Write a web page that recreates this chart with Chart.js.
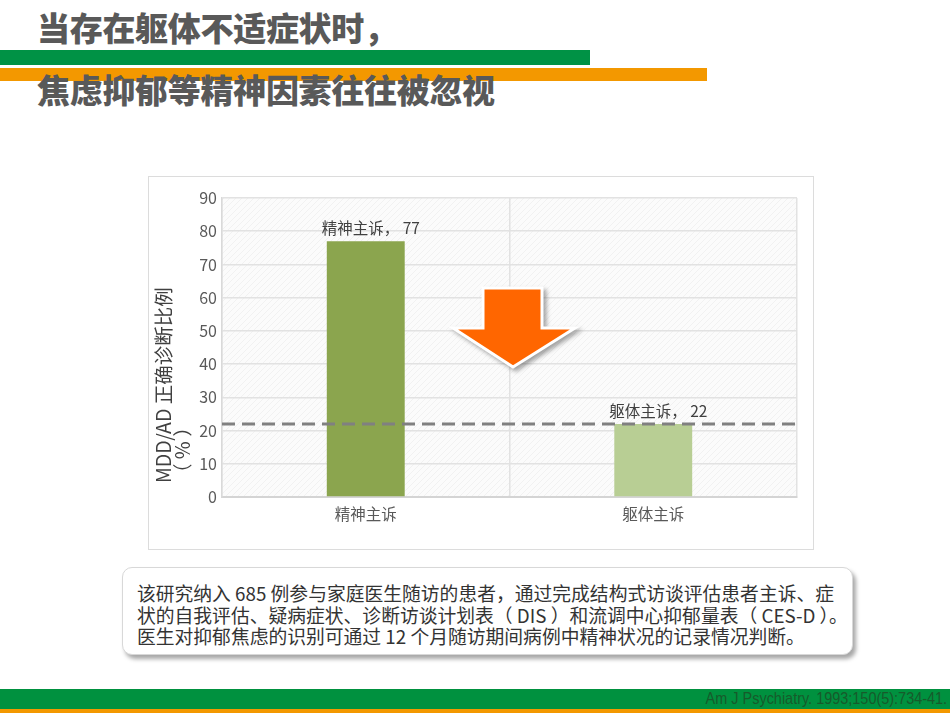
<!DOCTYPE html>
<html>
<head>
<meta charset="utf-8">
<script src="https://cdn.jsdelivr.net/npm/chart.js@4.4.0/dist/chart.umd.min.js"></script>
<style>
    body { margin: 0; width: 950px; height: 713px; background: #fff; position: relative; overflow: hidden;
           font-family: "Noto Sans CJK SC", "Noto Sans", sans-serif; }
    .abs { position: absolute; }
    .title { left: 37px; font-size: 33px; line-height: 33px; font-weight: 900; color: #595959; white-space: nowrap; letter-spacing: -0.3px; }
    #chartBox { left: 148px; top: 176px; width: 664px; height: 372px; border: 1px solid #dcdcdc; }
    #note { left: 122px; top: 567px; width: 731px; height: 88px; border: 1px solid #d8d8d8; border-radius: 10px;
            box-shadow: 3px 4px 4px rgba(0,0,0,0.35); background: #fff; box-sizing: border-box;
            padding: 14px 0 0 14px; font-size: 18.8px; line-height: 21.5px; color: #333; white-space: nowrap; }
    #cite { right: 3px; top: 689px; height: 20px; line-height: 20px; font-family: "Liberation Sans", sans-serif;
            font-size: 17px; color: #175a2b; transform: scaleX(0.85); transform-origin: right center; }
</style>
</head>
<body>
<div class="abs" style="left:0;top:50px;width:590px;height:15px;background:#009245"></div>
<div class="abs" style="left:0;top:68px;width:707px;height:13px;background:#f39800"></div>
<div class="abs title" style="top:11px">当存在躯体不适症状时，</div>
<div class="abs title" style="top:73px">焦虑抑郁等精神因素往往被忽视</div>

<div class="abs" id="chartBox"><canvas id="chart" width="664" height="372"></canvas></div>

<svg class="abs" style="left:440px;top:280px;filter:drop-shadow(3px 3px 2px rgba(0,0,0,0.35))" width="150" height="100">
    <polygon points="43,8 102,8 102,48 135,48 73,87 13,48 43,48" fill="#ff6600" stroke="#fff" stroke-width="3" stroke-linejoin="miter"/>
</svg>

<div class="abs" id="note">该研究纳入 685 例参与家庭医生随访的患者，通过完成结构式访谈评估患者主诉、症<br>状的自我评估、疑病症状、诊断访谈计划表（ DIS ）和流调中心抑郁量表（ CES-D ）。<br>医生对抑郁焦虑的识别可通过 12 个月随访期间病例中精神状况的记录情况判断。</div>

<div class="abs" style="left:0;top:689px;width:950px;height:20px;background:#00913f"></div>
<div class="abs" style="left:0;top:709px;width:950px;height:4px;background:#f39800"></div>
<div class="abs" id="cite">Am J Psychiatry. 1993;150(5):734-41.</div>

<script>
const categories = ["精神主诉", "躯体主诉"];
const rates = [77, 22];
const barColors = ["#8ba54e", "#b8ce94"];
const yTicks = [0, 10, 20, 30, 40, 50, 60, 70, 80, 90];
const refLine = 22;
const yTitle = ["MDD/AD 正确诊断比例", "（ % ）"];

const tickFont = { family: "'Noto Sans CJK SC', 'Noto Sans', sans-serif", size: 15.5 };

// hatched plot background
function makePattern() {
    const c = document.createElement("canvas");
    c.width = 6; c.height = 6;
    const g = c.getContext("2d");
    g.fillStyle = "#fbfbfb";
    g.fillRect(0, 0, 6, 6);
    g.strokeStyle = "#f1f1f1";
    g.lineWidth = 1;
    g.beginPath();
    g.moveTo(0, 6); g.lineTo(6, 0);
    g.stroke();
    return g.createPattern(c, "repeat");
}

const decorPlugin = {
    id: "decor",
    beforeDraw(chart) {
        const { ctx, chartArea: a } = chart;
        ctx.save();
        ctx.fillStyle = makePattern();
        ctx.fillRect(a.left, a.top, a.right - a.left, a.bottom - a.top);
        ctx.restore();
    },
    afterDatasetsDraw(chart) {
        const { ctx, chartArea: a, scales } = chart;
        // dashed reference line
        const y = scales.y.getPixelForValue(refLine);
        ctx.save();
        ctx.strokeStyle = "#808080";
        ctx.lineWidth = 3;
        ctx.setLineDash([13, 7]);
        ctx.beginPath();
        ctx.moveTo(a.left, y);
        ctx.lineTo(a.right, y);
        ctx.stroke();
        ctx.restore();

        // value labels
        const meta = chart.getDatasetMeta(0);
        ctx.save();
        ctx.font = "15.5px 'Noto Sans CJK SC', sans-serif";
        ctx.fillStyle = "#404040";
        ctx.textAlign = "center";
        ctx.textBaseline = "middle";
        meta.data.forEach((bar, i) => {
            ctx.fillText(categories[i] + "， " + rates[i], bar.x + 5, bar.y - 13);
        });
        ctx.restore();
    },
    afterDraw(chart) {
        // rotated y title, two lines, start aligned
        const { ctx, chartArea: a } = chart;
        ctx.save();
        ctx.font = "19.5px 'Noto Sans CJK SC', sans-serif";
        ctx.fillStyle = "#404040";
        ctx.textAlign = "left";
        ctx.textBaseline = "middle";
        yTitle.forEach((t, i) => {
            ctx.save();
            ctx.translate(15 + i * 19, a.bottom - 14);
            ctx.rotate(-Math.PI / 2);
            ctx.fillText(t, 0, 0);
            ctx.restore();
        });
        ctx.restore();
    }
};

new Chart(document.getElementById("chart"), {
    type: "bar",
    data: {
        labels: categories,
        datasets: [{
            data: rates,
            backgroundColor: barColors,
            categoryPercentage: 1,
            barPercentage: 0.271
        }]
    },
    options: {
        responsive: false,
        animation: false,
        layout: { padding: { top: 21, right: 16, left: 0, bottom: 0 } },
        plugins: { legend: { display: false }, tooltip: { enabled: false } },
        scales: {
            x: {
                afterFit: s => { s.height = 52; },
                grid: { color: "#e2e2e2", lineWidth: 1.5, drawTicks: false, offset: true },
                border: { color: "#d4d4d4", width: 2 },
                ticks: { color: "#595959", font: tickFont, padding: 8 }
            },
            y: {
                min: 0,
                max: 90,
                afterFit: s => { s.width = 73; },
                afterBuildTicks: s => { s.ticks = yTicks.map(v => ({ value: v })); },
                grid: { color: "#e2e2e2", lineWidth: 1.5, drawTicks: false },
                border: { color: "#d9d9d9", width: 1.5 },
                ticks: { color: "#595959", font: { family: tickFont.family, size: 16 }, padding: 5 }
            }
        }
    },
    plugins: [decorPlugin]
});
</script>
</body>
</html>
